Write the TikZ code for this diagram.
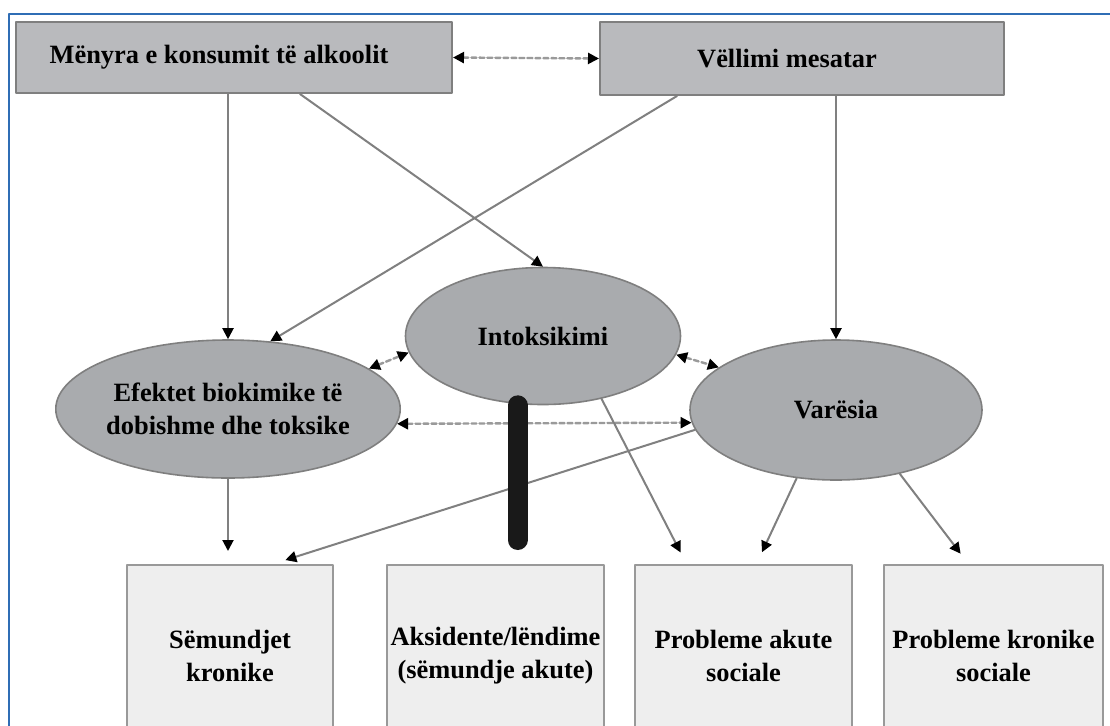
\documentclass[tikz,border=0pt]{standalone}
\usepackage{fontspec}
\setmainfont{Liberation Serif}
\usetikzlibrary{arrows.meta,shapes.geometric}
\definecolor{frameblue}{HTML}{2F6DB5}
\definecolor{topgray}{HTML}{B9BABD}
\definecolor{ellgray}{HTML}{A9ABAE}
\definecolor{boxgray}{HTML}{EEEEEE}
\definecolor{edgegray}{HTML}{7F7F7F}
\definecolor{linegray}{HTML}{808080}
\definecolor{dashgray}{HTML}{9A9A9A}
\tikzset{
  topbox/.style={draw=edgegray, line width=1pt, fill=topgray, minimum height=35.5pt, inner sep=0pt},
  factor/.style={ellipse, draw=edgegray, line width=0.8pt, fill=ellgray, align=center, inner sep=0pt},
  outbox/.style={draw=black!40, line width=1pt, fill=boxgray, minimum height=91pt, align=center, inner sep=0pt},
  tip/.style={-{Triangle[length=5.5pt,width=5.5pt,color=black]}},
  link/.style={tip, draw=linegray, line width=1pt},
  twoway/.style={{Triangle[length=5.5pt,width=5.5pt,color=black]}-{Triangle[length=5.5pt,width=5.5pt,color=black]},
    draw=dashgray, line width=1.2pt, dash pattern=on 2.5pt off 1.5pt},
  gap/.style={shorten >=6.5pt},
}
\begin{document}
\begin{tikzpicture}[x=0.5pt, y=-0.5pt, font=\fontsize{13.2}{16.5}\selectfont\bfseries, line join=round, line cap=round]
\useasboundingbox (0,0) rectangle (1110,725);
\fill[white] (0,0) rectangle (1110,725);
\begin{scope}
\clip (0,0) rectangle (1110,725);
\draw[frameblue, line width=1.2pt] (9,14) rectangle (1140,760);
% causes
\node[topbox, minimum width=218pt] (cons) at (234,57.5) {Mënyra e konsumit të alkoolit\hspace*{15pt}};
\node[topbox, minimum width=202pt, minimum height=36.5pt] (vol) at (802,58.5) {Vëllimi mesatar\hspace*{15pt}};
% intermediate
\node[factor, minimum width=167.5pt, minimum height=69pt] (efekt) at (228,409) {Efektet biokimike të\\dobishme dhe toksike};
\node[factor, minimum width=137.5pt, minimum height=68.5pt] (intox) at (543,336) {Intoksikimi};
\node[factor, minimum width=146pt, minimum height=70pt] (varesia) at (836,410) {Varësia};
% consequences
\foreach \n/\x/\w/\t in {semund/230/103/{Sëmundjet\\kronike},
    aksid/495.5/108.5/{Aksidente/lëndime\\(sëmundje akute)},
    akute/743.5/108.5/{Probleme akute\\sociale},
    kron/993.5/109.5/{Probleme kronike\\sociale}}
  \node[outbox, minimum width=\w pt] (\n) at (\x,656) {\t};
% connectors
\draw[twoway] (cons.east) -- (vol.west);
\draw[link] (efekt.north |- cons.south) -- (efekt.north);
\draw[link] ([xshift=33pt]cons.south) -- (intox.north);
\draw[link] ([xshift=-62.5pt]vol.south) -- (efekt.58);
\draw[link] (varesia.north |- vol.south) -- (varesia.north);
\draw[twoway] (efekt.16) -- (intox.187);
\draw[twoway] (intox.-8) -- (varesia.160);
\draw[twoway] (efekt.-5) -- (varesia.185);
\draw[link, gap] (efekt.south) -- (efekt.south |- semund.north);
\draw[link, gap] (varesia.188) -- ([xshift=21.5pt]semund.north);
\draw[link, gap] (intox.-47) -- ([xshift=-28.5pt]akute.north);
\draw[link, gap] (varesia.240) -- ([xshift=6.5pt]akute.north);
\draw[link, gap] (varesia.-45) -- ([xshift=-12.5pt]kron.north);
\draw[black!90, line width=10pt, shorten >=12pt] ([xshift=11pt]aksid.north |- intox.south) -- ([xshift=11pt]aksid.north);
\end{scope}
\end{tikzpicture}
\end{document}
